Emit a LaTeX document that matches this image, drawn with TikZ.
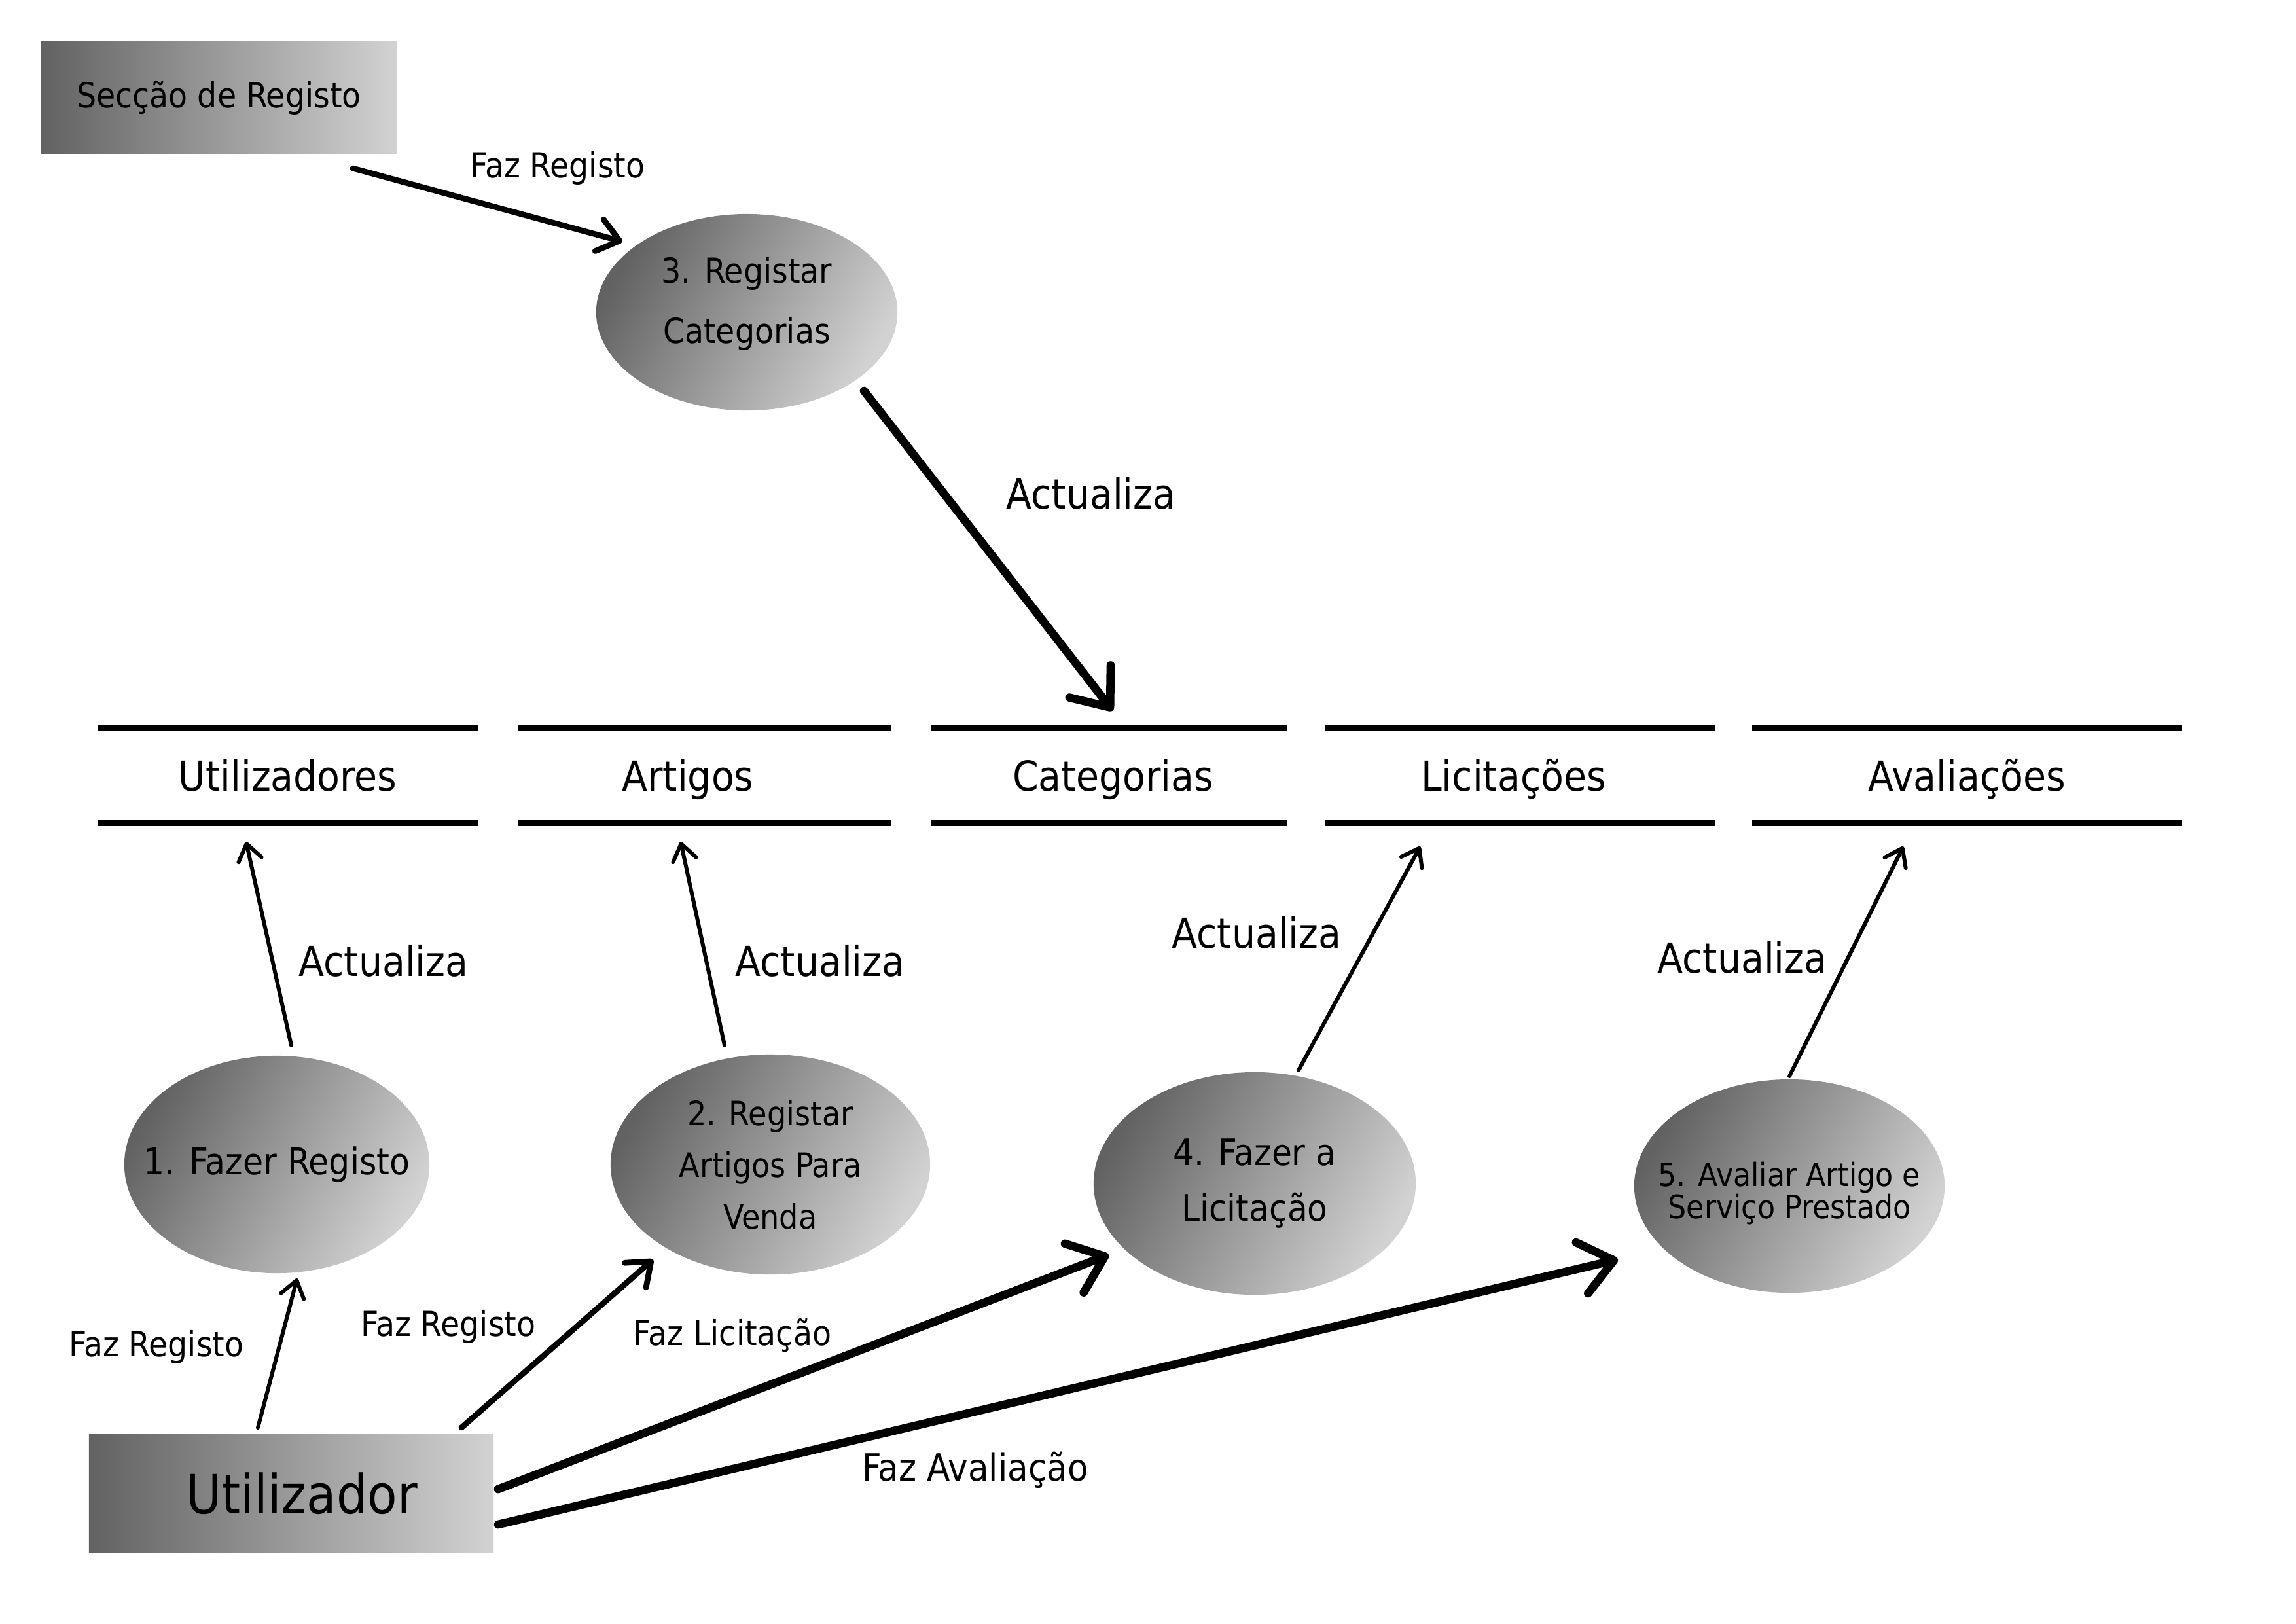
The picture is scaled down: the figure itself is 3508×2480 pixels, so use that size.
\documentclass[tikz,border=0pt]{standalone}
\usepackage{fontspec}
\setmainfont{DejaVu Sans Condensed}
\usetikzlibrary{arrows.meta,shapes.geometric}
\definecolor{gdark}{HTML}{626262}
\definecolor{glight}{HTML}{D2D2D2}
\newcommand{\shiftline}[2]{\raisebox{#1}[\height][\depth]{#2}}
\begin{document}
\begin{tikzpicture}[x=0.01cm,y=-0.01cm,
  proc/.style={ellipse, left color=gdark, right color=glight, shading angle=60, draw=none, inner sep=-1cm, align=center},
  ext/.style={rectangle, left color=gdark, right color=glight, draw=none, inner sep=0pt},
  store/.style={draw=none, inner sep=0pt, minimum height=1.45cm, font=\fontsize{18}{22}\selectfont, text height=13.7pt, text depth=0pt},
  storeline/.style={line width=2.6pt},
  lbl/.style={font=\fontsize{15}{18}\selectfont, inner sep=0pt},
  biglbl/.style={font=\fontsize{18}{22}\selectfont, inner sep=0pt},
  flowthick/.style={line width=3.6pt, line cap=round, -{Straight Barb[round,length=0.5cm,width=0.8cm]}},
  flowmed/.style={line width=2.5pt, line cap=round, -{Straight Barb[round,length=0.32cm,width=0.5cm]}},
  flowthin/.style={line width=1.7pt, line cap=round, -{Straight Barb[round,length=0.25cm,width=0.36cm]}}
]
\useasboundingbox (0,0) rectangle (3508,2480);
\fill[white] (0,0) rectangle (3508,2480);

% external entities
\node[ext, minimum width=5.43cm, minimum height=1.72cm, font=\fontsize{15}{18}\selectfont] (sec) at (334.5,149) {Secção de Registo};
\node[ext, minimum width=6.18cm, minimum height=1.79cm, font=\fontsize{23.5}{28}\selectfont] (u) at (445,2281.5) {\hspace*{0.32cm}Utilizador};

% processes
\node[proc, minimum width=4.6cm, minimum height=3.0cm, font=\fontsize{15}{26}\selectfont] (e3) at (1141,477) {\shiftline{0.13cm}{3. Registar}\\\shiftline{0.13cm}{Categorias}};
\node[proc, minimum width=4.66cm, minimum height=3.32cm, font=\fontsize{16}{20}\selectfont] (e1) at (423,1779) {1. Fazer Registo};
\node[proc, minimum width=4.88cm, minimum height=3.36cm, font=\fontsize{14.6}{22.5}\selectfont] (e2) at (1177,1779) {2. Registar\\Artigos Para\\Venda};
\node[proc, minimum width=4.92cm, minimum height=3.4cm, font=\fontsize{15.9}{24}\selectfont] (e4) at (1917,1808) {4. Fazer a\\Licitação};
\node[proc, minimum width=4.74cm, minimum height=3.26cm, font=\fontsize{14}{14}\selectfont] (e5) at (2734,1812) {\shiftline{-0.11cm}{5. Avaliar Artigo e}\\\shiftline{-0.11cm}{Serviço Prestado}};

% data stores
\node[store, minimum width=5.79cm] (sU) at (439.5,1184.5) {Utilizadores};
\node[store, minimum width=5.68cm] (sA) at (1076,1184.5) {Artigos\hspace*{0.5cm}};
\node[store, minimum width=5.43cm] (sC) at (1694.5,1184.5) {\hspace*{0.12cm}Categorias};
\node[store, minimum width=5.95cm] (sL) at (2322.5,1184.5) {Licitações\hspace*{0.2cm}};
\node[store, minimum width=6.55cm] (sV) at (3005.5,1184.5) {Avaliações};
\foreach \s in {sU,sA,sC,sL,sV}{
  \draw[storeline] (\s.north west) -- (\s.north east);
  \draw[storeline] (\s.south west) -- (\s.south east);
}

% flows
\draw[flowmed] ([shift={(204.5,108)}]sec.center) -- ([shift={(-190,-108)}]e3.center);
\draw[flowthick] ([shift={(179,120)}]e3.center) -- ([shift={(5.5,-99)}]sC.center);

\draw[flowthin] ([shift={(22,-182)}]e1.center) -- ([shift={(-63.5,101.5)}]sU.center);
\draw[flowthin] ([shift={(-70,-182)}]e2.center) -- ([shift={(-36,101.5)}]sA.center);
\draw[flowthin] ([shift={(67,-173)}]e4.center) -- ([shift={(-152.5,108.5)}]sL.center);
\draw[flowthin] ([shift={(0,-168)}]e5.center) -- ([shift={(-97.5,108.5)}]sV.center);

\draw[flowthin] ([shift={(-51,-100.5)}]u.center) -- ([shift={(31,174)}]e1.center);
\draw[flowmed] ([shift={(260,-100.5)}]u.center) -- ([shift={(-179,145)}]e2.center);
\draw[flowthick] ([shift={(316,-6.5)}]u.center) -- ([shift={(-223,109)}]e4.center);
\draw[flowthick] ([shift={(316,47.5)}]u.center) -- ([shift={(-262,112)}]e5.center);

% labels
\node[lbl] (l1) at (852,257) {Faz Registo};
\node[biglbl] (l2) at (1667,754) {Actualiza};
\node[biglbl] (l3) at (586,1468) {Actualiza};
\node[biglbl] (l4) at (1253,1468) {Actualiza};
\node[biglbl] (l5) at (1920,1425) {Actualiza};
\node[biglbl] (l6) at (2662,1463) {Actualiza};
\node[lbl] (l7) at (239,2058) {Faz Registo};
\node[lbl] (l8) at (685,2027) {Faz Registo};
\node[lbl] (l9) at (1119,2040) {Faz Licitação};
\node[lbl, font=\fontsize{16.3}{19}\selectfont] (l10) at (1490,2246) {Faz Avaliação};
\end{tikzpicture}
\end{document}
